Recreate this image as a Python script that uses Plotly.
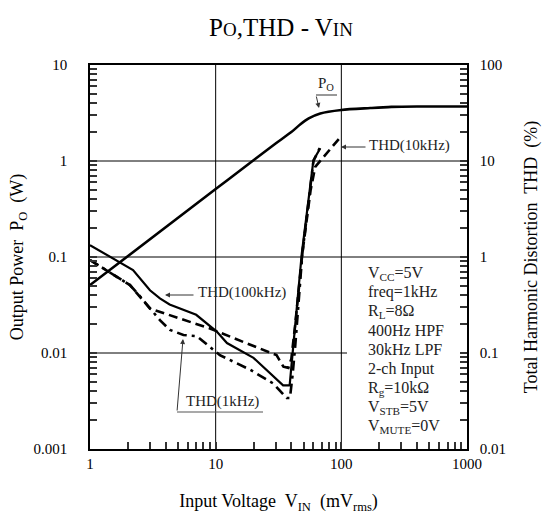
import plotly.graph_objects as go
import math

# ---------------- data ----------------
vin_po = [1, 10, 20, 30, 40, 47, 55, 68, 100, 170, 250, 400, 1000]
po_w = [0.051, 0.51, 1.02, 1.52, 2.0, 2.4, 2.78, 3.13, 3.4, 3.56, 3.66, 3.7, 3.7]

vin_100k = [1, 2.2, 3.0, 3.6, 4.3, 7.0, 10.2, 12.3, 20, 34.4, 38.8, 41.0, 48.5, 60, 68]
thd_100k = [1.33, 0.73, 0.45, 0.37, 0.32, 0.25, 0.167, 0.127, 0.089, 0.046, 0.046, 0.1, 1.1, 10.2, 13.6]

vin_10k = [1, 1.73, 2.08, 3.0, 9.0, 17.7, 30.5, 34.6, 37.9, 40, 43, 49, 57, 62, 100]
thd_10k = [0.93, 0.60, 0.51, 0.29, 0.18, 0.126, 0.095, 0.072, 0.07, 0.087, 0.2, 1.1, 5.0, 8.7, 18.2]

vin_1k = [1, 1.73, 2.08, 2.5, 3.6, 4.33, 5.54, 7.07, 10.8, 18.8, 28.8, 36.7, 39, 41, 43, 49, 60, 68]
thd_1k = [0.93, 0.60, 0.51, 0.39, 0.22, 0.174, 0.154, 0.15, 0.095, 0.067, 0.048, 0.034, 0.034, 0.06, 0.12, 1.1, 10.0, 14.0]

conditions = ["V<sub>CC</sub>=5V", "freq=1kHz", "R<sub>L</sub>=8Ω", "400Hz HPF",
              "30kHz LPF", "2-ch Input", "R<sub>g</sub>=10kΩ", "V<sub>STB</sub>=5V",
              "V<sub>MUTE</sub>=0V"]

x_decades = [1, 10, 100, 1000]
y_decades = [0.001, 0.01, 0.1, 1, 10]
y2_decades = [0.01, 0.1, 1, 10, 100]

# ---------------- layout geometry ----------------
W, H = 550, 516
L, R, T, B = 90, 467, 65, 449
FONT = "Liberation Serif"


def px(xp):
    return (xp - L) / (R - L)


def py(yp):
    return (B - yp) / (B - T)


def log_ticks(decades):
    vals, texts = [], []
    for i, d in enumerate(decades):
        vals.append(d)
        texts.append(f"{d:g}")
        if i < len(decades) - 1:
            for m in range(2, 10):
                vals.append(d * m)
                texts.append("")
    return vals, texts


xv, xt = log_ticks(x_decades)
yv, yt = log_ticks(y_decades)
y2v, y2t = log_ticks(y2_decades)

fig = go.Figure()
fig.add_trace(go.Scatter(x=vin_po, y=po_w, mode="lines", yaxis="y",
                         line=dict(color="black", width=2.6, shape="spline", smoothing=0.8)))
fig.add_trace(go.Scatter(x=vin_100k, y=thd_100k, mode="lines", yaxis="y2",
                         line=dict(color="black", width=2.2)))
fig.add_trace(go.Scatter(x=vin_10k, y=thd_10k, mode="lines", yaxis="y2",
                         line=dict(color="black", width=2.6, dash="9px,5px")))
fig.add_trace(go.Scatter(x=vin_1k, y=thd_1k, mode="lines", yaxis="y2",
                         line=dict(color="black", width=2.6, dash="10px,5px,3px,5px")))

axis_common = dict(type="log", showline=True, linecolor="black", linewidth=1.5,
                   ticks="inside", ticklen=7, tickwidth=2, tickcolor="#333",
                   tickfont=dict(family=FONT, size=15, color="black"),
                   zeroline=False, showgrid=False, tickmode="array", automargin=False)

title_font = dict(family=FONT, size=18, color="black")
fig.update_layout(
    width=W, height=H,
    margin=dict(l=L, r=W - R, t=T, b=H - B, autoexpand=False),
    paper_bgcolor="white", plot_bgcolor="white",
    showlegend=False,
    font=dict(family=FONT, color="black"),
    title=dict(text="P<span style='font-size:19px'>O</span>,THD - V<span style='font-size:19px'>IN</span>",
               x=281 / W, xanchor="center", y=1 - 27 / H, yanchor="middle",
               font=dict(family=FONT, size=25, color="black")),
    xaxis=dict(**axis_common, range=[0, 3], tickvals=xv, ticktext=xt, mirror=True,
               title=dict(text="Input Voltage\u00a0 V<sub>IN</sub>\u00a0 (mV<sub>rms</sub>)",
                          font=title_font, standoff=24)),
    yaxis=dict(**axis_common, range=[-3, 1], tickvals=yv, ticktext=yt,
               ticklabelstandoff=18,
               title=dict(text="Output Power\u00a0 P<sub>O</sub>\u00a0 (W)",
                          font=title_font, standoff=5)),
    yaxis2=dict(**axis_common, range=[-2, 2], overlaying="y", side="right",
                tickvals=y2v, ticktext=y2t,
                ticklabelstandoff=8,
                title=dict(text="Total Harmonic Distortion\u00a0 THD\u00a0 (%)",
                           font=title_font, standoff=19)),
)

# grid lines at decades (the 0.01 W line stops at the conditions box)
for xd in x_decades[1:-1]:
    xp = math.log10(xd) / 3
    fig.add_shape(type="line", xref="paper", yref="paper", layer="below",
                  x0=xp, x1=xp, y0=0, y1=1, line=dict(color="black", width=1))
for yd in y_decades[1:-1]:
    yp = (math.log10(yd) + 3) / 4
    x_end = px(347) if yd == 0.01 else 1
    fig.add_shape(type="line", xref="paper", yref="paper", layer="below",
                  x0=0, x1=x_end, y0=yp, y1=yp, line=dict(color="black", width=1))

annotations = []
for i, line in enumerate(conditions):
    annotations.append(dict(xref="paper", yref="paper", x=px(366), y=py(273 + 19.2 * i),
                            xanchor="left", yanchor="middle", showarrow=False, text=line,
                            font=dict(family=FONT, size=16, color="#222")))

lab_font = dict(family=FONT, size=15, color="#222")
arrow = dict(showarrow=True, arrowhead=2, arrowsize=1, arrowwidth=1, arrowcolor="#333",
             standoff=0, startstandoff=0, text="", xref="paper", yref="paper")
# P_O label
annotations.append(dict(xref="paper", yref="paper", x=px(326), y=py(84), text="P<sub>O</sub>",
                        showarrow=False, font=lab_font, xanchor="center", yanchor="middle"))
annotations.append(dict(**arrow, x=px(319), y=py(108), ax=-3, ay=-13))
# THD(10kHz)
annotations.append(dict(xref="paper", yref="paper", x=px(367), y=py(145), text="THD(10kHz)",
                        showarrow=False, font=lab_font, xanchor="left", yanchor="middle"))
annotations.append(dict(**arrow, x=px(341), y=py(147), ax=26, ay=0))
# THD(100kHz)
annotations.append(dict(xref="paper", yref="paper", x=px(196), y=py(292), text="THD(100kHz)",
                        showarrow=False, font=lab_font, xanchor="left", yanchor="middle"))
annotations.append(dict(**arrow, x=px(165), y=py(295), ax=30, ay=0))
# THD(1kHz)
annotations.append(dict(xref="paper", yref="paper", x=px(222), y=py(401), text="THD(1kHz)",
                        showarrow=False, font=lab_font, xanchor="center", yanchor="middle"))
annotations.append(dict(**arrow, x=px(183), y=py(339), ax=-6, ay=73))
fig.update_layout(annotations=annotations)

fig.add_shape(type="line", xref="paper", yref="paper", x0=px(316), x1=px(337),
              y0=py(95), y1=py(95), line=dict(color="#333", width=1))
fig.add_shape(type="line", xref="paper", yref="paper", x0=px(177), x1=px(263),
              y0=py(412), y1=py(412), line=dict(color="#555", width=1.2))

fig.write_html("out.html")
